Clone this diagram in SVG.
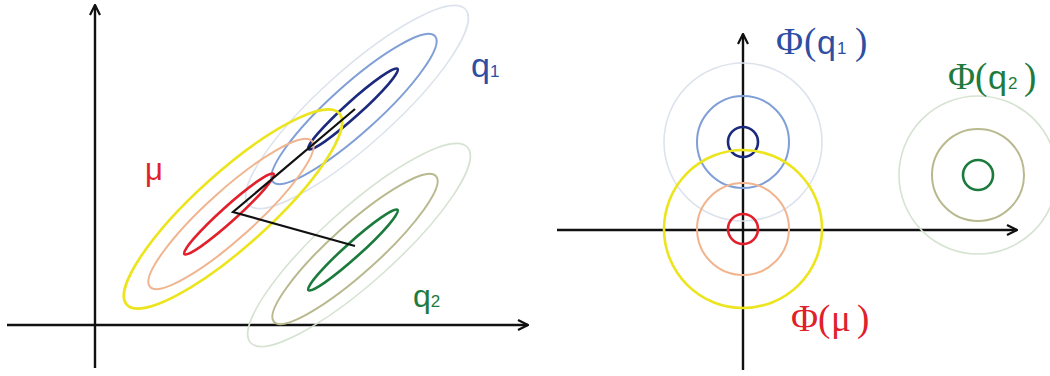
<svg xmlns="http://www.w3.org/2000/svg" width="1050" height="376" viewBox="0 0 1050 376">
<style>
.ax{stroke:#111;stroke-width:2.4;fill:none}
.e{fill:none}
.red{stroke:#e2202b;stroke-width:2.6}
.org{stroke:#f0b48e;stroke-width:2}
.yel{stroke:#ece51e;stroke-width:2.6}
.nav{stroke:#1c2a7e;stroke-width:2.6}
.blu{stroke:#7f9fd6;stroke-width:2}
.lbl{stroke:#dde3ec;stroke-width:1.6}
.grn{stroke:#1b7a3c;stroke-width:2.6}
.olv{stroke:#b9b98f;stroke-width:2}
.lgn{stroke:#d6e3d2;stroke-width:1.6}
.sans{font-family:"Liberation Sans",Arial,sans-serif}
.serif{font-family:"Liberation Serif","Times New Roman",serif}
.cq1{fill:#2d4ea2}
.cq2{fill:#1e7a3e}
.cmu{fill:#e0202b}
</style>
<defs>
<marker id="arr" viewBox="0 0 12 12" refX="11" refY="6" markerWidth="12" markerHeight="12" orient="auto" markerUnits="userSpaceOnUse">
<path d="M1,1 L11,6 L1,11" fill="none" stroke="#111" stroke-width="2.2"/>
</marker>
</defs>
<rect width="1050" height="376" fill="#fff"/>

<!-- LEFT PANEL -->
<g id="left-axes">
<line class="ax" x1="95" y1="368" x2="95" y2="5" marker-end="url(#arr)"/>
<line class="ax" x1="7" y1="325" x2="528" y2="325" marker-end="url(#arr)"/>
</g>
<g id="q1-ellipses" class="e">
<ellipse class="lbl" cx="357" cy="107" rx="146" ry="37" transform="rotate(-42 357 107)"/>
<ellipse class="blu" cx="354" cy="109" rx="109" ry="24" transform="rotate(-42 354 109)"/>
<ellipse class="nav" cx="353" cy="109" rx="60" ry="7.5" transform="rotate(-42 353 109)"/>
</g>
<g id="q2-ellipses" class="e">
<ellipse class="lgn" cx="359" cy="245" rx="146" ry="37" transform="rotate(-42 359 245)"/>
<ellipse class="olv" cx="355" cy="249" rx="109" ry="24" transform="rotate(-42 355 249)"/>
<ellipse class="grn" cx="353" cy="250" rx="60" ry="7.5" transform="rotate(-42 353 250)"/>
</g>
<g id="mu-ellipses" class="e">
<ellipse class="yel" cx="233" cy="209" rx="143" ry="37" transform="rotate(-42 233 209)"/>
<ellipse class="org" cx="231" cy="214" rx="109" ry="24" transform="rotate(-42 231 214)"/>
<ellipse class="red" cx="229" cy="214" rx="60" ry="7.5" transform="rotate(-42 229 214)"/>
</g>
<g id="connectors">
<polyline points="355,109 233,212 355,246" fill="none" stroke="#111" stroke-width="2.2"/>
</g>
<g id="left-labels">
<text class="sans cq1" x="471" y="77" font-size="34">q<tspan font-size="17">1</tspan></text>
<text class="sans cmu" x="145" y="180" font-size="31">μ</text>
<text class="sans cq2" x="413" y="307" font-size="32">q<tspan font-size="17">2</tspan></text>
</g>

<!-- RIGHT PANEL -->
<g id="right-axes">
<line class="ax" x1="743" y1="370" x2="743" y2="34" marker-end="url(#arr)"/>
<line class="ax" x1="557" y1="230" x2="1017" y2="230" marker-end="url(#arr)"/>
</g>
<g id="phi-q1" class="e">
<circle class="lbl" cx="743" cy="142" r="79"/>
<circle class="blu" cx="743" cy="142" r="46"/>
<circle class="nav" cx="743" cy="142" r="15"/>
</g>
<g id="phi-mu" class="e">
<circle class="yel" cx="743" cy="229" r="79"/>
<circle class="org" cx="743" cy="229" r="46"/>
<circle class="red" cx="743" cy="229" r="15"/>
</g>
<g id="phi-q2" class="e">
<circle class="lgn" cx="978" cy="175" r="79"/>
<circle class="olv" cx="978" cy="175" r="46"/>
<circle class="grn" cx="978" cy="175" r="15"/>
</g>
<g id="right-labels">
<text class="cq1" y="54"><tspan class="serif" x="776" font-size="37">Φ</tspan><tspan class="serif" x="804" font-size="37">(</tspan><tspan class="sans" x="817" font-size="34">q</tspan><tspan class="sans" x="837" font-size="17">1</tspan><tspan class="serif" x="855" font-size="37">)</tspan></text>
<text class="cq2" y="89"><tspan class="serif" x="948" font-size="37">Φ</tspan><tspan class="serif" x="975" font-size="37">(</tspan><tspan class="sans" x="988" font-size="34">q</tspan><tspan class="sans" x="1008" font-size="17">2</tspan><tspan class="serif" x="1024" font-size="37">)</tspan></text>
<text class="cmu" y="331"><tspan class="serif" x="791" font-size="37">Φ</tspan><tspan class="serif" x="818" font-size="37">(</tspan><tspan class="serif" x="831" font-size="37">μ</tspan><tspan class="serif" x="857" font-size="37">)</tspan></text>
</g>
</svg>
